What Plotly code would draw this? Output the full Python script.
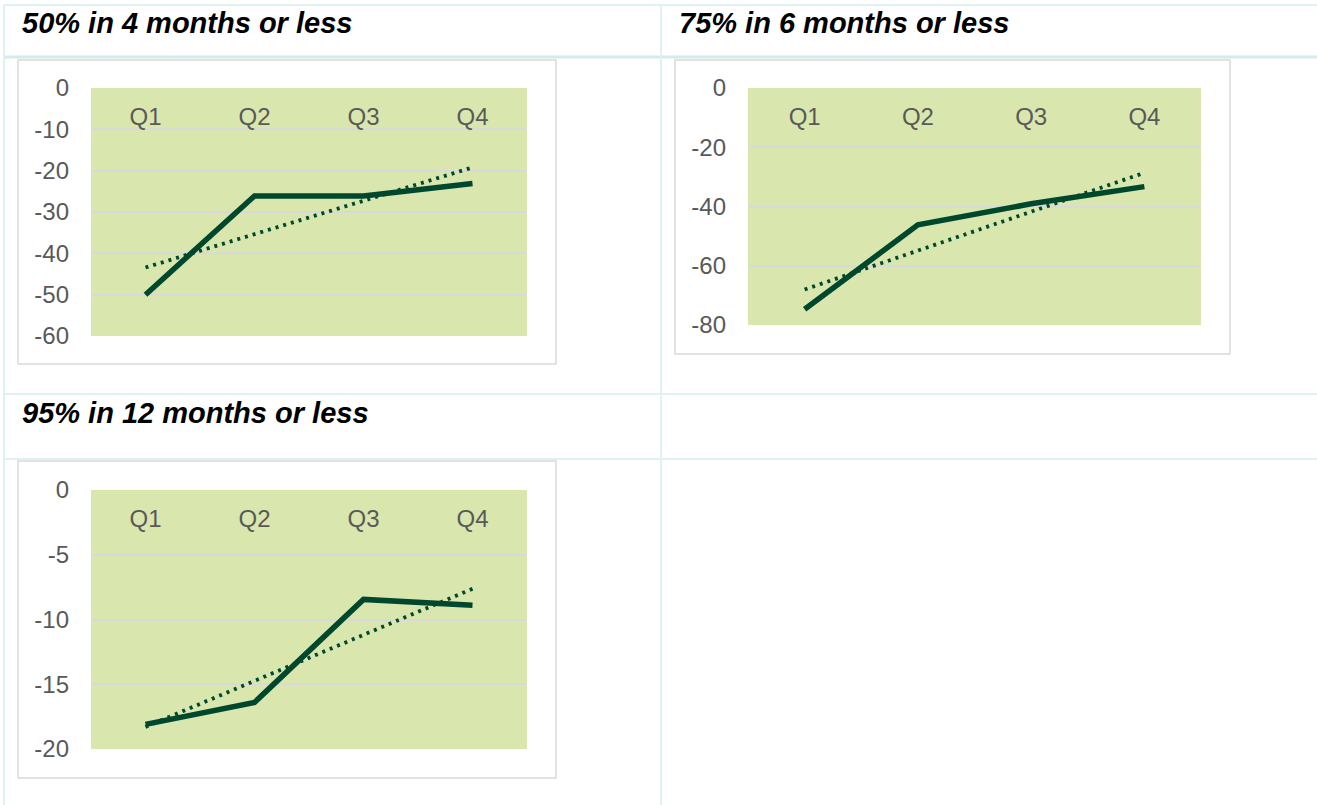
import numpy as np
import plotly.graph_objects as go

W, H = 1317, 805

quarters = ["Q1", "Q2", "Q3", "Q4"]
titles = ["50% in 4 months or less", "75% in 6 months or less", "95% in 12 months or less"]
vals_50 = [-50.0, -26.1, -26.1, -23.1]
vals_75 = [-74.7, -46.2, -39.1, -33.3]
vals_95 = [-18.1, -16.4, -8.45, -8.9]
ticks_50 = [0, -10, -20, -30, -40, -50, -60]
ticks_75 = [0, -20, -40, -60, -80]
ticks_95 = [0, -5, -10, -15, -20]

series = [vals_50, vals_75, vals_95]
tick_sets = [ticks_50, ticks_75, ticks_95]

# pixel boxes (plot areas, chart frames, titles)
plot_px = [(91, 527, 88, 336), (748, 1201, 88, 325), (91, 527, 490, 749)]
frame_px = [(18, 556, 60, 364), (675, 1230, 60, 354), (18, 556, 461, 778)]
title_px = [(20, 23), (677, 23), (20, 413)]

LINE = "#00482D"
BG = "#D9E7AE"
GRID = "#D9D9D9"
TICK = "#595959"
TABLE = "#E0F1F5"
TABLE_DARK = "#D3EAF0"
FONT = "Liberation Sans, Arial, sans-serif"

fig = go.Figure()

def fx(p):
    return p / W

def fy(p):
    return 1 - p / H

for i, vals in enumerate(series):
    n = i + 1
    xa = "x" if n == 1 else f"x{n}"
    ya = "y" if n == 1 else f"y{n}"
    xs = np.arange(1, len(vals) + 1)
    k, b = np.polyfit(xs, vals, 1)
    trend = k * xs + b
    fig.add_trace(go.Scatter(x=quarters, y=vals, mode="lines",
                             line=dict(color=LINE, width=5.5),
                             xaxis=xa, yaxis=ya, showlegend=False, hoverinfo="skip"))
    fig.add_trace(go.Scatter(x=quarters, y=list(trend), mode="lines",
                             line=dict(color=LINE, width=3.8, dash="3px,5px"),
                             xaxis=xa, yaxis=ya, showlegend=False, hoverinfo="skip"))
    x0, x1, y0, y1 = plot_px[i]
    tv = tick_sets[i]
    xkey = "xaxis" if n == 1 else f"xaxis{n}"
    ykey = "yaxis" if n == 1 else f"yaxis{n}"
    fig.update_layout(**{
        xkey: dict(domain=[fx(x0), fx(x1)], anchor="free", position=fy(y0),
                   type="category", categoryorder="array", categoryarray=quarters,
                   range=[-0.5, 3.5], side="bottom",
                   ticklabelstandoff=12, showgrid=False, zeroline=False,
                   showline=False, ticks="", automargin=False,
                   tickfont=dict(family=FONT, size=24, color=TICK)),
        ykey: dict(domain=[fy(y1), fy(y0)], anchor=xa, range=[min(tv), 0],
                   tickmode="array", tickvals=tv, ticktext=[str(t) for t in tv],
                   showgrid=True, gridcolor=GRID,
                   gridwidth=1.5, zeroline=False, showline=False, ticks="",
                   ticklabelstandoff=21, automargin=False,
                   tickfont=dict(family=FONT, size=24, color=TICK)),
    })

shapes = []
def hline(y, x0, x1, color=TABLE, w=2):
    shapes.append(dict(type="line", xref="paper", yref="paper",
                       x0=fx(x0), x1=fx(x1), y0=fy(y), y1=fy(y),
                       line=dict(color=color, width=w)))

def vline(x, y0, y1, color=TABLE, w=2):
    shapes.append(dict(type="line", xref="paper", yref="paper",
                       x0=fx(x), x1=fx(x), y0=fy(y0), y1=fy(y1),
                       line=dict(color=color, width=w)))

hline(5, 4, W)
hline(57, 4, W, TABLE_DARK, 3)
hline(394, 4, W)
hline(459, 4, W)
vline(4, 5, H)
vline(661, 5, H)

for (x0, x1, y0, y1) in frame_px:
    shapes.append(dict(type="rect", xref="paper", yref="paper",
                       x0=fx(x0), x1=fx(x1), y0=fy(y1), y1=fy(y0),
                       line=dict(color=GRID, width=1.5), fillcolor="rgba(0,0,0,0)"))

annotations = []
for t, (tx, ty) in zip(titles, title_px):
    annotations.append(dict(text=f"<b><i>{t}</i></b>", xref="paper", yref="paper",
                            x=fx(tx), y=fy(ty), xanchor="left", yanchor="middle",
                            showarrow=False,
                            font=dict(family=FONT, size=29, color="#000000")))

fig.update_layout(template="none", width=W, height=H,
                  margin=dict(l=0, r=0, t=0, b=0, pad=0, autoexpand=False),
                  paper_bgcolor="white", plot_bgcolor=BG,
                  shapes=shapes, annotations=annotations, showlegend=False)

fig.write_html("out.html", config={"displayModeBar": False})
